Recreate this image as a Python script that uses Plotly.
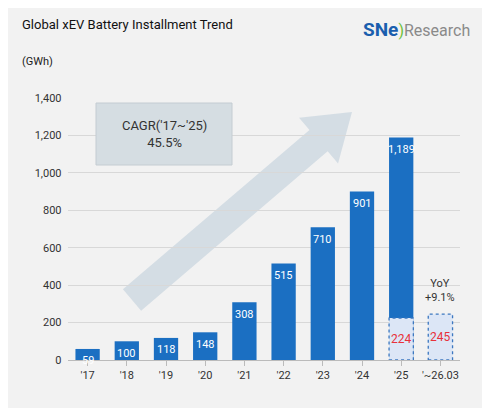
import math
import plotly.graph_objects as go

years = ["'17", "'18", "'19", "'20", "'21", "'22", "'23", "'24", "'25", "'~26.03"]
values = [59, 100, 118, 148, 308, 515, 710, 901, 1189, None]
q1_years = ["'25", "'~26.03"]
q1_values = [224, 245]

W, H = 490, 408
OFF = 8  # page body margin
ML, MR, MT, MB = 60, 38, 90, 56
PW, PH = W - ML - MR, H - MT - MB

fig = go.Figure()
fig.add_trace(go.Bar(x=years, y=values, width=0.62,
                     marker=dict(color="#1b6fc2", line_width=0), hoverinfo="skip"))

# annual value labels
for yr, v in zip(years, values):
    if v is None:
        continue
    fig.add_annotation(x=yr, y=v, text=f"{v:,}", showarrow=False, yshift=-12,
                       font=dict(color="white", size=11))

# Q1 dotted boxes
for yr, v in zip(q1_years, q1_values):
    i = years.index(yr)
    fig.add_shape(type="rect", x0=i - 0.31, x1=i + 0.31, y0=0, y1=v, xref="x", yref="y",
                  fillcolor="#dce6f6", line=dict(color="#3d78c0", width=1.3, dash="dot"))
    fig.add_annotation(x=yr, y=v / 2, text=str(v), showarrow=False,
                       font=dict(color="#e8313a", size=12))
fig.add_annotation(x="'~26.03", y=q1_values[1], text="YoY<br>+9.1%", showarrow=False,
                   yshift=24, font=dict(color="#333", size=11))

# pixel (screenshot) -> paper
def px2paper(px, py):
    return (px - OFF - ML) / PW, (OFF + MT + PH - py) / PH

tx, ty, hx, hy = 132, 300, 352, 112
ang = math.atan2(hy - ty, hx - tx)
ux, uy = math.cos(ang), math.sin(ang)
nx, ny = -uy, ux
L = math.hypot(hx - tx, hy - ty)
hl, sw, hw = 44, 14, 30
bx, by = tx + ux * (L - hl), ty + uy * (L - hl)
pts = [(tx + nx * sw, ty + ny * sw), (bx + nx * sw, by + ny * sw), (bx + nx * hw, by + ny * hw),
       (hx, hy), (bx - nx * hw, by - ny * hw), (bx - nx * sw, by - ny * sw), (tx - nx * sw, ty - ny * sw)]
path = "M " + " L ".join("%.4f,%.4f" % px2paper(*p) for p in pts) + " Z"
fig.add_shape(type="path", path=path, xref="paper", yref="paper",
              fillcolor="rgba(200,212,222,0.7)", line_width=0, layer="below")

# CAGR box
fig.add_shape(type="rect", xref="paper", yref="paper",
              x0=px2paper(96, 0)[0], x1=px2paper(232, 0)[0],
              y0=px2paper(0, 165)[1], y1=px2paper(0, 103)[1],
              fillcolor="#d5dde2", line=dict(color="#c4ccd2", width=1))
fig.add_annotation(xref="paper", yref="paper", x=px2paper(164, 0)[0], y=px2paper(0, 134)[1],
                   xanchor="center", yanchor="middle",
                   text="CAGR('17~'25)<br>45.5%", showarrow=False,
                   font=dict(size=13, color="#333"))

# titles
fig.add_annotation(xref="paper", yref="paper", x=px2paper(20, 0)[0], y=px2paper(0, 24)[1],
                   xanchor="left", yanchor="middle",
                   text="Global xEV Battery Installment Trend", showarrow=False,
                   font=dict(size=13, color="#111"))
fig.add_annotation(xref="paper", yref="paper", x=px2paper(20, 0)[0], y=px2paper(0, 61)[1],
                   xanchor="left", yanchor="middle",
                   text="(GWh)", showarrow=False, font=dict(size=11, color="#222"))
fig.add_annotation(xref="paper", yref="paper", x=px2paper(472, 0)[0], y=px2paper(0, 29)[1],
                   xanchor="right", yanchor="middle",
                   text="<b><span style='color:#1a5fae;font-size:19px'>SNe</span></b>"
                        "<span style='color:#6cbf3a'>)</span>"
                        "<span style='color:#8a8a8a'>Research</span>",
                   showarrow=False, font=dict(size=16))

fig.update_layout(
    width=W, height=H, margin=dict(l=ML, r=MR, t=MT, b=MB),
    paper_bgcolor="#f2f2f2", plot_bgcolor="#f2f2f2",
    font=dict(family="Roboto, Arial", color="#333"),
    showlegend=False,
    xaxis=dict(range=[-0.5, 9.5], showgrid=False, showline=True, linecolor="#bbb",
               ticks="outside", ticklen=5, tickcolor="#bbb", tickfont=dict(size=11)),
    yaxis=dict(range=[0, 1400], dtick=200, tickformat=",", gridcolor="#d8d8d8",
               zeroline=False, tickfont=dict(size=11), ticksuffix="  "),
)
fig.write_html("out.html")
